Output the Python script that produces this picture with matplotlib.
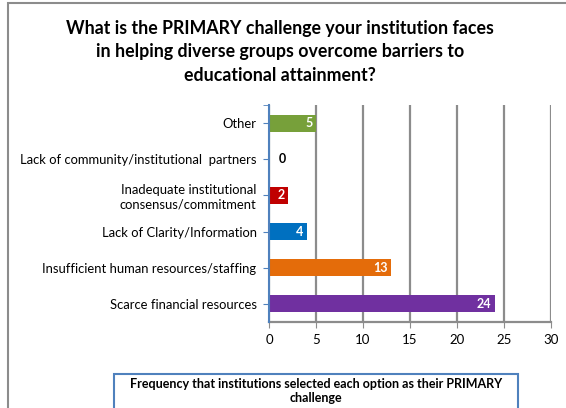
import matplotlib.pyplot as plt
from matplotlib.patches import Rectangle

plt.rcParams['font.family'] = ['Lato', 'DejaVu Sans']

categories = ["Scarce financial resources",
              "Insufficient human resources/staffing",
              "Lack of Clarity/Information",
              "Inadequate institutional\nconsensus/commitment",
              "Lack of community/institutional  partners",
              "Other"]
counts = [24, 13, 4, 2, 0, 5]
colors = ["#7030A0", "#E46C0A", "#0070C0", "#C00000", "#4F81BD", "#77A03A"]
xticks = [0, 5, 10, 15, 20, 25, 30]

fig = plt.figure(figsize=(5.66, 4.08), dpi=100)

# outer chart frame (only left and top edges are visible)
fig.patches.append(Rectangle((8 / 566, -0.05), 1.2, 1 - 3 / 408 + 0.05,
                             transform=fig.transFigure, fill=False,
                             edgecolor="#8c8c8c", lw=1.5))

ax = fig.add_axes([269 / 566, 1 - 322 / 408, 282 / 566, 217 / 408])
ypos = range(len(categories))
ax.barh(ypos, counts, height=0.47, color=colors, zorder=3)

for y, v in zip(ypos, counts):
    if v == 0:
        ax.text(1.0, y, str(v), ha="left", va="center", fontsize=9,
                fontweight="bold", color="black")
    else:
        ax.text(v - 0.35, y, str(v), ha="right", va="center", fontsize=9,
                fontweight="bold", color="white", zorder=4)

ax.set_xlim(0, 30)
ax.set_ylim(-0.5, 5.5)
ax.set_xticks(xticks)
ax.set_yticks(list(ypos))
ax.set_yticks([5.5], minor=True)
ax.set_yticklabels(categories, fontsize=9.4)
ax.tick_params(axis="x", labelsize=9.5, length=4, color="#8c8c8c", pad=5)
ax.tick_params(axis="y", which="both", length=4, color="#4F81BD", pad=5)
ax.grid(axis="x", color="#8c8c8c", lw=1.6, zorder=0)
for s in ["top", "right"]:
    ax.spines[s].set_visible(False)
ax.spines["left"].set_color("#4F81BD")
ax.spines["left"].set_linewidth(1.5)
ax.spines["left"].set_zorder(5)
ax.spines["bottom"].set_color("#8c8c8c")
ax.spines["bottom"].set_linewidth(1.6)

fig.text(280 / 566, 1 - 52 / 408,
         "What is the PRIMARY challenge your institution faces\n"
         "in helping diverse groups overcome barriers to\n"
         "educational attainment?",
         ha="center", va="center", fontsize=12.8, fontweight="bold",
         linespacing=1.45)

# x-axis title box
fig.patches.append(Rectangle((114 / 566, -0.05), 404 / 566, 1 - 374 / 408 + 0.05,
                             transform=fig.transFigure, fill=False,
                             edgecolor="#4F81BD", lw=1.5))
fig.text(316 / 566, 1 - 391 / 408,
         "Frequency that institutions selected each option as their PRIMARY\nchallenge",
         ha="center", va="center", fontsize=9, fontweight="bold",
         linespacing=1.2)

fig.savefig("out.png", dpi=100)
